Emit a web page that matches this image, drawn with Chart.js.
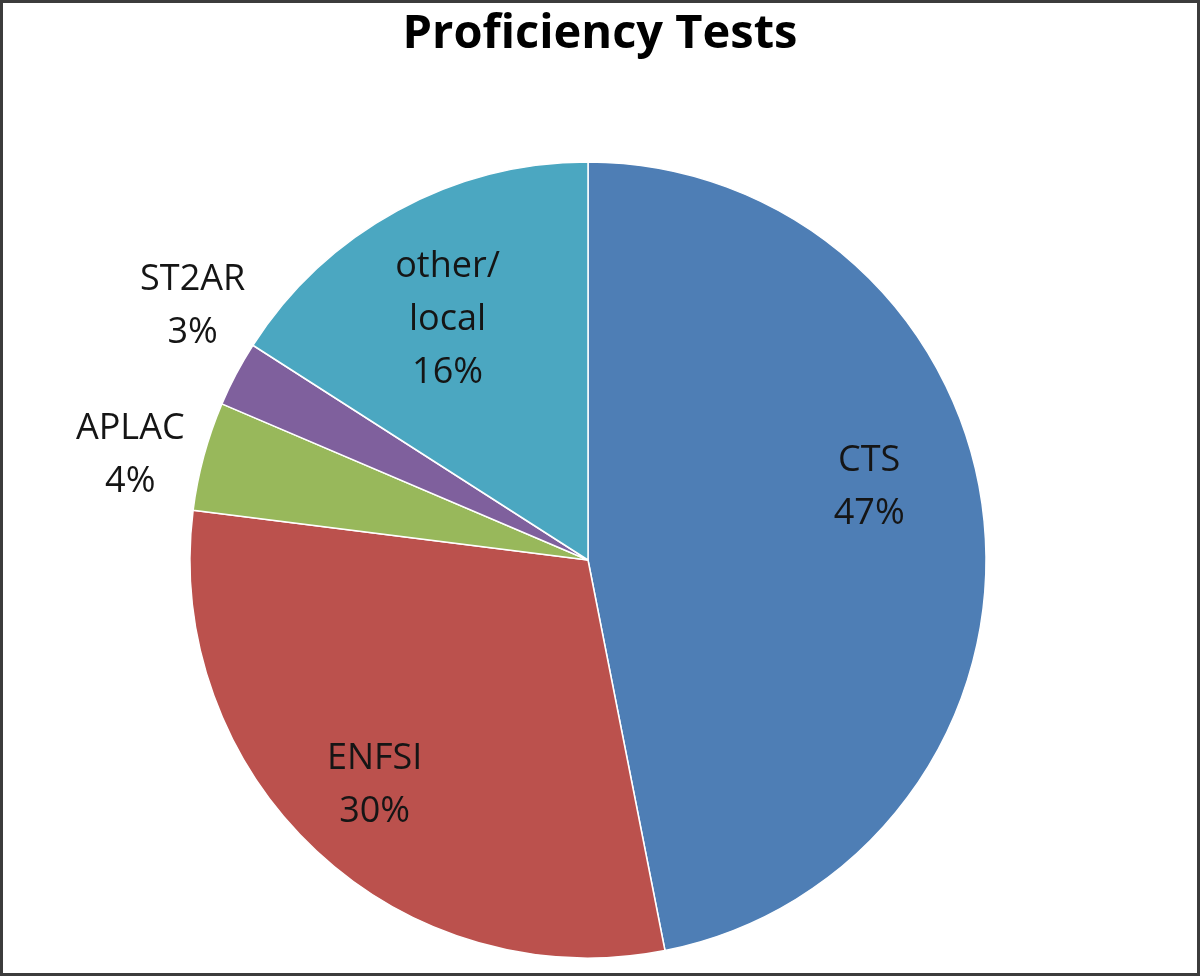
<!DOCTYPE html>
<html>
<head>
<meta charset="utf-8">
<title>Proficiency Tests</title>
<script src="https://cdn.jsdelivr.net/npm/chart.js@4.4.0/dist/chart.umd.min.js"></script>
<style>
  body { margin: 0; background: #fff; }
  #wrap { position: relative; width: 1200px; height: 976px; }
  #frame { position: absolute; left: 0; top: 0; right: 0; bottom: 0; border: 3px solid #3c3c3c; pointer-events: none; }
  canvas { position: absolute; left: 0; top: 0; }
</style>
</head>
<body>
<div id="wrap">
  <canvas id="myChart" width="1200" height="976"></canvas>
  <div id="frame"></div>
</div>
<script>
// data (counts, shown as rounded shares)
var categories = ["CTS", "ENFSI", "APLAC", "ST2AR", "other/local"];
var counts = [53, 34, 5, 3, 18];
var sliceColors = ["#4e7eb5", "#bb514d", "#98b85b", "#7f609d", "#4ba7c1"];

// where each label sits: fraction of radius, and nudge in degrees
var labelRadius = [0.73, 0.78, 1.18, 1.18, 0.70];
var labelShift = [-9, 0.4, -2.2, 4.8, -1.6];

function percentText(i) {
  var total = counts.reduce(function(a, b) { return a + b; }, 0);
  return Math.round(counts[i] / total * 100) + "%";
}

var pieLabels = {
  id: "pieLabels",
  afterDraw: function(chart) {
    var ctx = chart.ctx;
    var arcs = chart.getDatasetMeta(0).data;
    ctx.save();
    // title
    ctx.fillStyle = "#000";
    ctx.textAlign = "center";
    ctx.textBaseline = "middle";
    ctx.font = "bold 47px 'Open Sans'";
    ctx.fillText("Proficiency Tests", 600, 35);

    ctx.font = "36px 'Open Sans'";
    ctx.fillStyle = "#151515";
    arcs.forEach(function(arc, i) {
      var p = arc.getProps(["x", "y", "startAngle", "endAngle", "outerRadius"], true);
      var mid = (p.startAngle + p.endAngle) / 2 + labelShift[i] * Math.PI / 180;
      var d = p.outerRadius * labelRadius[i];
      var cx = p.x + Math.cos(mid) * d;
      var cy = p.y + Math.sin(mid) * d;
      var lines = categories[i].replace("/", "/\n").split("\n");
      lines.push(percentText(i));
      var lh = 53;
      var y0 = cy - (lines.length - 1) * lh / 2;
      lines.forEach(function(t, k) {
        ctx.fillText(t, cx, y0 + k * lh);
      });
    });
    ctx.restore();
  }
};

function printChart() {
  var ctx = document.getElementById("myChart").getContext("2d");
  var myChart = new Chart(ctx, {
    type: "pie",
    data: {
      labels: categories,
      datasets: [{
        data: counts,
        backgroundColor: sliceColors,
        borderColor: "#ffffff",
        borderWidth: 1.5,
        radius: 398
      }]
    },
    options: {
      responsive: false,
      animation: false,
      devicePixelRatio: 1,
      layout: { padding: { left: 0, right: 24, top: 144, bottom: 0 } },
      plugins: {
        legend: { display: false },
        title: { display: false },
        tooltip: { enabled: false }
      }
    },
    plugins: [pieLabels]
  });
}

printChart();
</script>
</body>
</html>
